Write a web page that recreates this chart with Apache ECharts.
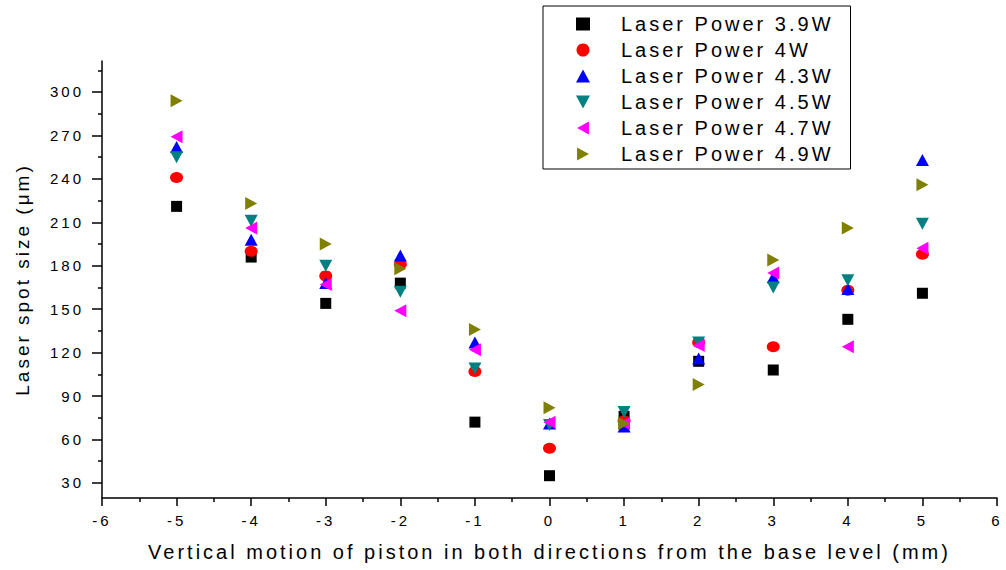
<!DOCTYPE html>
<html>
<head>
<meta charset="utf-8">
<script src="https://cdn.jsdelivr.net/npm/echarts@6/dist/echarts.min.js"></script>
<style>
  html, body { margin: 0; padding: 0; background: #fff; }
  #chart { width: 1006px; height: 570px; }
  #chart text { letter-spacing: 3px; }
</style>
</head>
<body>
<div id="chart"></div>
<script>
// ---- data ----
const xValues = [-5, -4, -3, -2, -1, 0, 1, 2, 3, 4, 5];
const power39 = [221, 186, 154, 168, 72, 35, 76, 114, 108, 143, 161];
const power40 = [241, 190, 173, 181, 107, 54, 73, 127, 124, 163, 188];
const power43 = [262, 198, 168, 187, 127, 71, 69, 116, 172, 164, 253];
const power45 = [255, 211, 180, 162, 109, 70, 79, 127, 165, 170, 209];
const power47 = [269, 206, 167, 149, 122, 72, 71, 125, 175, 124, 192];
const power49 = [294, 223, 195, 178, 136, 82, 71, 98, 184, 206, 236];
const seriesNames = ['Laser Power 3.9W', 'Laser Power 4W', 'Laser Power 4.3W',
                     'Laser Power 4.5W', 'Laser Power 4.7W', 'Laser Power 4.9W'];
const yTickLabels = [30, 60, 90, 120, 150, 180, 210, 240, 270, 300];
const yMinorTicks = [45, 75, 105, 135, 165, 195, 225, 255, 285, 315];

const seriesValues = [power39, power40, power43, power45, power47, power49];
const looks = [
  { symbol: 'rect', size: 11, rotate: 0, color: '#000000', icon: 'rect' },
  { symbol: 'circle', size: [13, 11], rotate: 0, color: '#ff0000', icon: 'circle' },
  { symbol: 'triangle', size: [13, 12], rotate: 0, color: '#0000ff', icon: 'triangle' },
  { symbol: 'triangle', size: [13, 12], rotate: 180, color: '#008080', icon: 'path://M0,0L12,0L6,11Z' },
  { symbol: 'triangle', size: [13, 12], rotate: 90, color: '#ff00ff', icon: 'path://M11,0L11,12L0,6Z' },
  { symbol: 'triangle', size: [13, 12], rotate: -90, color: '#808000', icon: 'path://M0,0L11,6L0,12Z' }
];

const FONT = 'Liberation Sans, Arial, sans-serif';
const chart = echarts.init(document.getElementById('chart'), null, { renderer: 'svg' });

const series = seriesValues.map((vals, i) => ({
  name: seriesNames[i],
  type: 'scatter',
  xAxisIndex: 0,
  yAxisIndex: 0,
  symbol: looks[i].symbol,
  symbolSize: looks[i].size,
  symbolRotate: looks[i].rotate,
  itemStyle: { color: looks[i].color, opacity: 1 },
  data: xValues.map((x, j) => [x, vals[j]])
}));

chart.setOption({
  animation: false,
  backgroundColor: '#ffffff',
  textStyle: { fontFamily: FONT },
  grid: { left: 102, right: 9, top: 61, bottom: 72, containLabel: false, outerBoundsMode: 'none' },
  legend: {
    orient: 'vertical',
    left: 543,
    top: 6,
    padding: [8, 65, 5, 33],
    itemWidth: 14,
    itemHeight: 13,
    itemGap: 6,
    symbolKeepAspect: true,
    borderColor: '#000',
    borderWidth: 1,
    borderRadius: 0,
    backgroundColor: '#fff',
    textStyle: { fontSize: 20, color: '#000', fontFamily: FONT, padding: [0, 0, 0, 26] },
    data: seriesNames.map((n, i) => ({ name: n, icon: looks[i].icon }))
  },
  xAxis: {
    type: 'value',
    min: -6,
    max: 6,
    interval: 1,
    name: 'Vertical motion of piston in both directions from the base level (mm)',
    nameLocation: 'middle',
    nameGap: 44,
    nameTextStyle: { fontSize: 20, color: '#000', fontFamily: FONT },
    axisLine: { show: true, onZero: false, lineStyle: { color: '#000', width: 1.5 } },
    axisTick: { show: true, inside: false, length: 8, lineStyle: { color: '#000', width: 1.5 } },
    minorTick: { show: true, splitNumber: 2, length: 4, lineStyle: { color: '#000', width: 1.5 } },
    axisLabel: { fontSize: 15, color: '#000', margin: 15, interval: 0, showMinLabel: true, showMaxLabel: true },
    splitLine: { show: false },
    minorSplitLine: { show: false }
  },
  yAxis: [{
    type: 'value',
    min: 19.6,
    max: 321.4,
    position: 'left',
    name: 'Laser spot size (\u03bcm)',
    nameLocation: 'middle',
    nameRotate: 90,
    nameGap: 70,
    nameTextStyle: { fontSize: 19, color: '#000', fontFamily: FONT },
    axisLine: { show: true, onZero: false, lineStyle: { color: '#000', width: 1.5 } },
    axisTick: { show: true, inside: false, length: 10, customValues: yTickLabels, lineStyle: { color: '#000', width: 1.5 } },
    axisLabel: { fontSize: 15, color: '#000', margin: 18, customValues: yTickLabels },
    splitLine: { show: false }
  }, {
    type: 'value',
    min: 19.6,
    max: 321.4,
    position: 'left',
    offset: 0,
    axisLine: { show: false, onZero: false },
    axisTick: { show: true, inside: false, length: 4, customValues: yMinorTicks, lineStyle: { color: '#000', width: 1.5 } },
    axisLabel: { show: false },
    splitLine: { show: false }
  }],
  series: series
});
</script>
</body>
</html>
